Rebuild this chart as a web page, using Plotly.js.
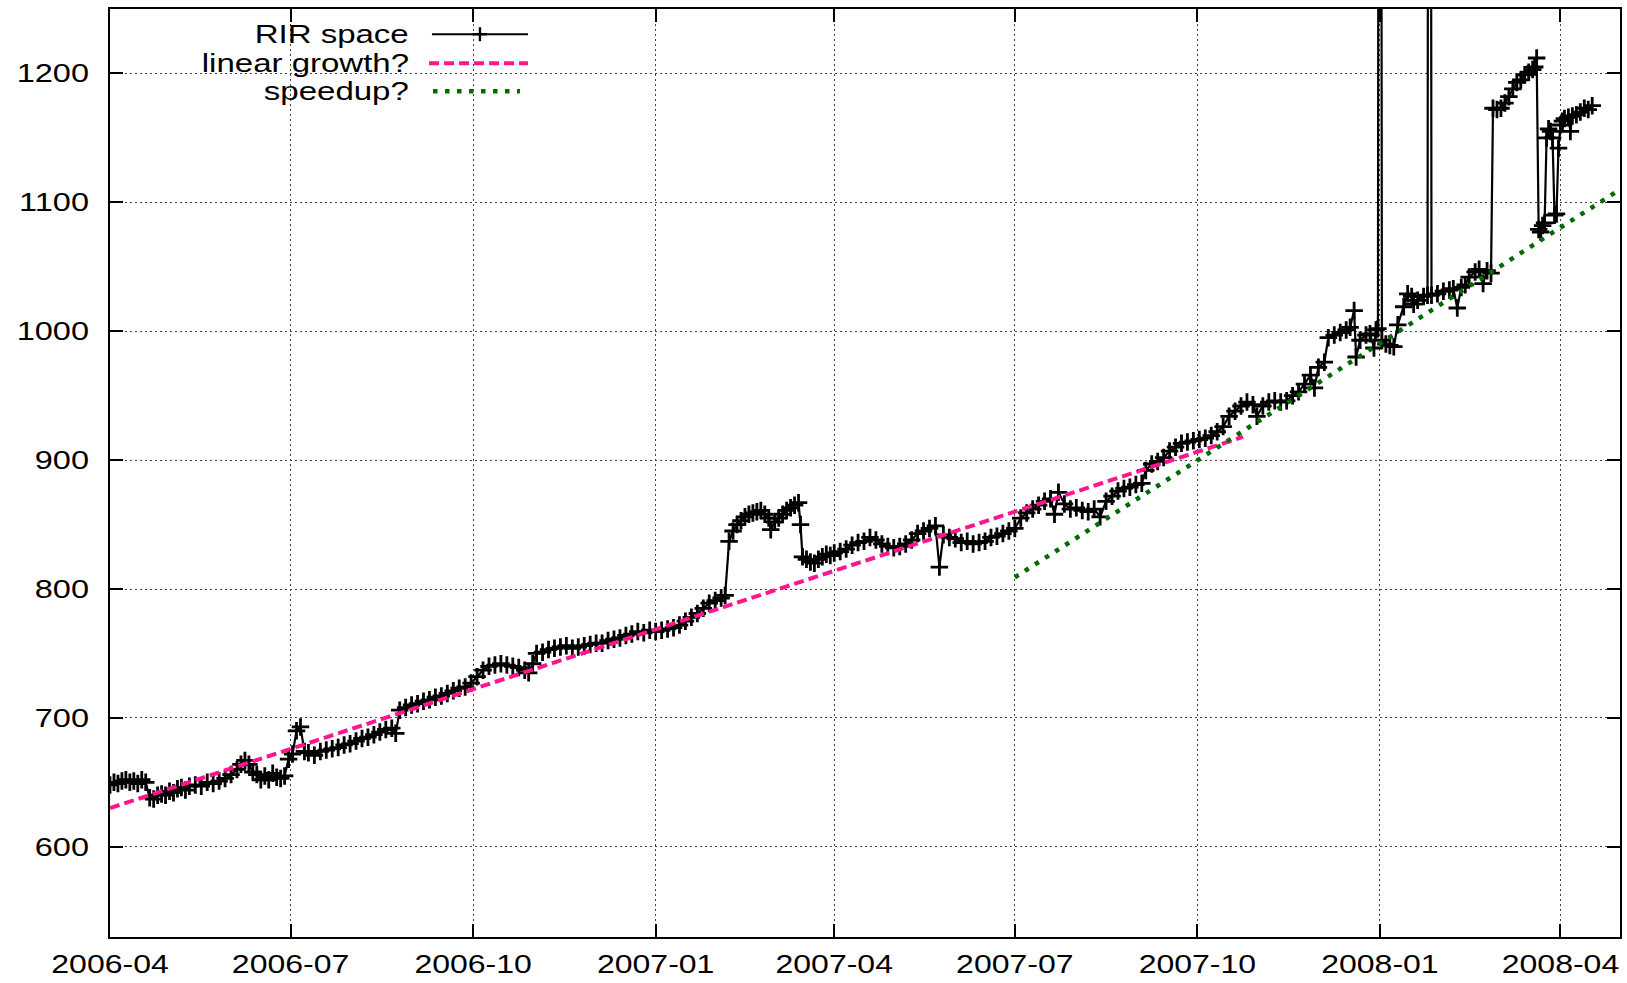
<!DOCTYPE html>
<html>
<head>
<meta charset="utf-8">
<script src="https://cdn.plot.ly/plotly-3.0.1.min.js"></script>
<style>
html,body{margin:0;padding:0;background:#ffffff;}
#chart{width:1627px;height:983px;}
</style>
</head>
<body>
<div id="chart"></div>
<script>
// ---------------- data ----------------
const startDate = '2006-04-01';
// day offsets from startDate and RIR space values
const rirDays = [
0,2,4,6,8,10,12,14,16,18,20,22,24,26,28,30,32,34,36,38,40,43,46,49,52,55,58,61,64,66,68,70,72,74,76,78,80,82,84,86,88,
90,92,94,96,98,100,103,106,109,112,115,118,121,124,127,130,133,136,139,142,144,
146,149,152,155,158,161,164,167,170,173,176,179,182,185,188,191,194,197,200,203,206,209,211,213,
215,218,221,224,227,230,233,236,239,242,245,248,251,254,257,260,263,266,269,272,275,278,281,284,287,290,293,296,299,302,305,308,310,
312,314,316,318,320,322,324,326,328,330,332,333,335,337,339,341,343,345,347,348,
349,351,353,355,357,359,361,363,365,368,371,374,377,380,383,386,389,392,395,398,401,404,407,410,413,416,418,420,423,426,429,432,435,438,441,444,447,450,453,456,
459,462,465,468,471,474,476,478,481,484,487,490,493,496,499,502,505,508,511,514,517,520,
522,525,528,531,534,537,540,543,546,549,552,555,558,561,564,567,570,573,576,578,581,584,587,590,593,596,599,602,605,607,609,612,
614,617,620,623,625,627,628,630,633,635,637,638,639,640,641,643,645,647,649,652,654,656,657,659,662,664,665,666,669,672,675,677,679,681,683,685,688,690,692,694,696,
697,699,701,703,705,707,709,711,713,715,717,718,719,720,721,722,723,724,725,726,727,728,729,730,731,732,733,735,736,737,739,741,743,745,747
];
const rirValues = [
648,650,649,651,652,650,651,649,652,650,638,637,640,641,640,643,642,645,646,644,647,648,647,650,649,651,653,656,660,664,667,664,658,656,652,655,652,657,654,653,655,
668,672,690,693,674,673,671,674,675,676,677,679,680,682,684,685,687,689,691,692,688,
706,708,710,711,713,714,716,717,719,721,723,724,727,732,737,740,741,742,741,740,739,737,735,742,
750,751,753,754,755,756,754,755,756,757,758,758,760,761,762,764,765,767,766,768,767,768,769,770,772,775,778,781,785,789,791,793,795,
837,845,850,853,856,858,859,860,861,858,855,846,852,855,858,861,863,865,867,850,
825,823,821,820,823,825,827,826,828,829,831,834,836,837,840,838,835,833,832,833,835,838,843,845,847,849,817,842,840,839,836,837,835,836,837,840,841,843,845,847,
855,859,862,865,868,870,858,875,866,862,863,861,860,862,856,868,872,876,878,879,881,882,
892,897,899,902,907,910,913,914,915,916,917,919,922,926,934,938,942,945,943,934,942,945,946,945,946,950,953,959,966,956,972,976,
995,997,999,1001,1003,1016,980,993,997,998,987,1001,1002,2500,993,990,989,988,1005,1019,1029,1027,1021,1024,1027,1028,2500,1028,1029,1031,1032,1033,1018,1034,1036,1042,1046,1048,1037,1047,1045,
1173,1172,1173,1177,1182,1188,1193,1195,1199,1201,1203,1205,1212,1079,1077,1082,1084,1150,1157,1155,1150,1090,1091,1142,1160,1163,1165,1166,1155,1167,1168,1170,1173,1172,1175
];
// "linear growth?" guide line (day offsets / values)
const linearDays = [0, 571];
const linearValues = [630, 918];
// "speedup?" guide line
const speedupDays = [456, 762];
const speedupValues = [809, 1111];

const legendLabels = ['RIR space', 'linear growth?', 'speedup?'];
const xRange = ['2006-04-01', '2008-05-01'];
const yRange = [530, 1250];
const yTicks = [600, 700, 800, 900, 1000, 1100, 1200];

// ---------------- helpers ----------------
function dayToDate(d) {
  const base = Date.parse(startDate + 'T00:00:00Z');
  return new Date(base + d * 86400000).toISOString().slice(0, 10);
}

const FONT = 'Liberation Sans, Arial, Helvetica, sans-serif';
const PINK = '#ff168c';
const GREEN = '#006a00';

const traces = [
  {
    x: rirDays.map(dayToDate), y: rirValues,
    type: 'scatter', mode: 'lines+markers', name: legendLabels[0],
    line: {color: '#000000', width: 2.2},
    marker: {symbol: 'cross-thin', size: 12.5, color: '#000000', line: {color: '#000000', width: 2.8}},
    cliponaxis: true, showlegend: false
  },
  {
    x: linearDays.map(dayToDate), y: linearValues,
    type: 'scatter', mode: 'lines', name: legendLabels[1],
    line: {color: PINK, width: 4, dash: '10px,5px'},
    showlegend: false
  },
  {
    x: speedupDays.map(dayToDate), y: speedupValues,
    type: 'scatter', mode: 'lines', name: legendLabels[2],
    line: {color: GREEN, width: 4.5, dash: '4.5px,7.5px'},
    showlegend: false
  }
];

// legend drawn gnuplot style (text right-aligned, sample on the right)
const legendY = [0.9728, 0.9415, 0.9113];
const annotations = legendLabels.map((t, i) => ({
  text: t, xref: 'paper', yref: 'paper', x: 0.1993, y: legendY[i],
  xanchor: 'right', yanchor: 'middle', align: 'right', showarrow: false,
  font: {family: FONT, size: 25, color: '#000000'}
}));
const shapes = [
  {type: 'line', xref: 'paper', yref: 'paper', x0: 0.2132, x1: 0.2768, y0: legendY[0], y1: legendY[0],
   line: {color: '#000000', width: 2}},
  {type: 'line', xref: 'paper', yref: 'paper', xsizemode: 'pixel', ysizemode: 'pixel',
   xanchor: 0.245, yanchor: legendY[0], x0: -7, x1: 7, y0: 0, y1: 0, line: {color: '#000000', width: 2.4}},
  {type: 'line', xref: 'paper', yref: 'paper', xsizemode: 'pixel', ysizemode: 'pixel',
   xanchor: 0.245, yanchor: legendY[0], x0: 0, x1: 0, y0: -7, y1: 7, line: {color: '#000000', width: 2.4}},
  {type: 'line', xref: 'paper', yref: 'paper', x0: 0.2113, x1: 0.2768, y0: legendY[1], y1: legendY[1],
   line: {color: PINK, width: 4, dash: '10px,5px'}},
  {type: 'line', xref: 'paper', yref: 'paper', x0: 0.2139, x1: 0.2715, y0: legendY[2], y1: legendY[2],
   line: {color: GREEN, width: 4.5, dash: '4.5px,7.5px'}}
];

const axisCommon = {
  showline: true, linecolor: '#000000', linewidth: 2, mirror: 'ticks',
  ticks: 'inside', ticklen: 13, tickwidth: 2, tickcolor: '#000000',
  showgrid: true, gridcolor: '#444444', gridwidth: 1, griddash: '2px,3px',
  zeroline: false,
  tickfont: {family: FONT, size: 25, color: '#000000'}
};

const layout = {
  width: 1627, height: 983,
  margin: {l: 110, r: 7, t: 9, b: 46, pad: 0},
  paper_bgcolor: '#ffffff', plot_bgcolor: '#ffffff',
  showlegend: false,
  xaxis: Object.assign({}, axisCommon, {
    type: 'date', range: xRange, tick0: '2006-04-01', dtick: 'M3', tickformat: '%Y-%m',
    ticklabelstandoff: 4
  }),
  yaxis: Object.assign({}, axisCommon, {
    range: yRange, tickvals: yTicks, ticktext: yTicks.map(String),
    ticklabelstandoff: 14
  }),
  annotations: annotations,
  shapes: shapes
};

function stretch(nodes, k, mode) {
  nodes.forEach(t => {
    const b0 = t.getBBox();
    const w = t.getComputedTextLength();
    if (!w) return;
    t.setAttribute('textLength', (w * k).toFixed(2));
    t.setAttribute('lengthAdjust', 'spacingAndGlyphs');
    const b1 = t.getBBox();
    let dx = 0;
    if (mode === 'right') dx = (b0.x + b0.width) - (b1.x + b1.width);
    else dx = (b0.x + b0.width / 2) - (b1.x + b1.width / 2);
    if (Math.abs(dx) > 0.01) {
      const x0 = parseFloat(t.getAttribute('x') || '0');
      t.setAttribute('x', (x0 + dx).toFixed(2));
    }
  });
}

Plotly.newPlot('chart', traces, layout, {displayModeBar: false, staticPlot: true}).then(gd => {
  stretch(Array.from(gd.querySelectorAll('.xtick text')), 1.28, 'center');
  stretch(Array.from(gd.querySelectorAll('.ytick text')), 1.30, 'right');
  stretch(Array.from(gd.querySelectorAll('.annotation-text')), 1.32, 'right');
});
</script>
</body>
</html>
